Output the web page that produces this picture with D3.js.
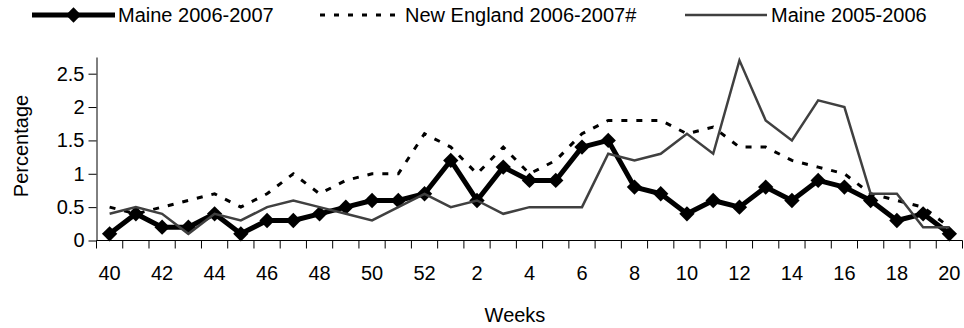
<!DOCTYPE html>
<html>
<head>
<meta charset="utf-8">
<script src="https://cdn.jsdelivr.net/npm/d3@7"></script>
<style>
  body { margin: 0; background: #fff; }
  svg text { font-family: Arial, 'Liberation Sans', sans-serif; fill: #000; }
</style>
</head>
<body>
<div id="chart"></div>
<script>
// Weeks of the flu season, 40..52 then 1..20
const weeks = [40, 41, 42, 43, 44, 45, 46, 47, 48, 49, 50, 51, 52,
  1, 2, 3, 4, 5, 6, 7, 8, 9, 10, 11, 12, 13, 14, 15, 16, 17, 18, 19, 20]

const maine0607 = [0.1, 0.4, 0.2, 0.2, 0.4, 0.1, 0.3, 0.3, 0.4, 0.5, 0.6, 0.6, 0.7,
  1.2, 0.6, 1.1, 0.9, 0.9, 1.4, 1.5, 0.8, 0.7, 0.4, 0.6, 0.5, 0.8, 0.6, 0.9, 0.8, 0.6, 0.3, 0.4, 0.1]

const newEngland0607 = [0.5, 0.4, 0.5, 0.6, 0.7, 0.5, 0.7, 1.0, 0.7, 0.9, 1.0, 1.0, 1.6,
  1.4, 1.0, 1.4, 1.0, 1.2, 1.6, 1.8, 1.8, 1.8, 1.6, 1.7, 1.4, 1.4, 1.2, 1.1, 1.0, 0.7, 0.6, 0.5, 0.2]

const maine0506 = [0.4, 0.5, 0.4, 0.1, 0.4, 0.3, 0.5, 0.6, 0.5, 0.4, 0.3, 0.5, 0.7,
  0.5, 0.6, 0.4, 0.5, 0.5, 0.5, 1.3, 1.2, 1.3, 1.6, 1.3, 2.7, 1.8, 1.5, 2.1, 2.0, 0.7, 0.7, 0.2, 0.2]

const yTicks = [0, 0.5, 1, 1.5, 2, 2.5]
const seriesNames = ['Maine 2006-2007', 'New England 2006-2007#', 'Maine 2005-2006']

;(() => {
  const WIDTH = 964
  const HEIGHT = 328
  const PLOT = { left: 96.5, right: 962.5, top: 57, bottom: 240.5 }
  const FONT = 20

  const svg = d3.select('#chart').append('svg')
    .attr('width', WIDTH)
    .attr('height', HEIGHT)

  const x = d3.scaleBand()
    .domain(weeks.map(String))
    .range([PLOT.left, PLOT.right])

  const y = d3.scaleLinear()
    .domain([0, 2.75])
    .range([PLOT.bottom, PLOT.top])

  const cx = (d, i) => x(String(weeks[i])) + x.bandwidth() / 2

  // y axis
  const yAxis = d3.axisLeft(y)
    .tickValues(yTicks)
    .tickFormat(d3.format('~g'))
    .tickSize(8)
    .tickPadding(4)
    .tickSizeOuter(0)

  const yg = svg.append('g')
    .attr('transform', `translate(${PLOT.left},0)`)
    .call(yAxis)
  yg.selectAll('text').style('font-size', FONT + 'px')
  yg.selectAll('line, path').attr('stroke', '#000')

  // x axis, ticks between categories
  const xg = svg.append('g')
    .attr('transform', `translate(0,${PLOT.bottom})`)
  xg.append('line')
    .attr('x1', PLOT.left).attr('x2', PLOT.right)
    .attr('stroke', '#000')
  const bounds = weeks.map(w => x(String(w))).concat([PLOT.right])
  xg.selectAll('line.tick')
    .data(bounds)
    .join('line')
    .attr('class', 'tick')
    .attr('x1', d => d).attr('x2', d => d)
    .attr('y1', 0).attr('y2', 8)
    .attr('stroke', '#000')
  xg.selectAll('text')
    .data(weeks.filter(w => w % 2 === 0))
    .join('text')
    .attr('x', w => x(String(w)) + x.bandwidth() / 2)
    .attr('y', 39)
    .attr('text-anchor', 'middle')
    .style('font-size', FONT + 'px')
    .text(w => w)

  // axis titles
  svg.append('text')
    .attr('x', 515).attr('y', 322)
    .attr('text-anchor', 'middle')
    .style('font-size', FONT + 'px')
    .text('Weeks')

  svg.append('text')
    .attr('transform', 'translate(28,146) rotate(-90)')
    .attr('text-anchor', 'middle')
    .style('font-size', FONT + 'px')
    .text('Percentage')

  const line = d3.line()
    .x(cx)
    .y(d => y(d))

  const diamond = d3.symbol().type(d3.symbolDiamond2).size(150)

  // series
  svg.append('path')
    .datum(maine0607)
    .attr('d', line)
    .attr('fill', 'none')
    .attr('stroke', '#000')
    .attr('stroke-width', 5)
    .attr('stroke-linejoin', 'round')

  svg.selectAll('path.marker')
    .data(maine0607)
    .join('path')
    .attr('class', 'marker')
    .attr('d', diamond)
    .attr('transform', (d, i) => `translate(${cx(d, i)},${y(d)})`)
    .attr('fill', '#000')

  svg.append('path')
    .datum(newEngland0607)
    .attr('d', line)
    .attr('fill', 'none')
    .attr('stroke', '#000')
    .attr('stroke-width', 3)
    .attr('stroke-dasharray', '6,9')

  svg.append('path')
    .datum(maine0506)
    .attr('d', line)
    .attr('fill', 'none')
    .attr('stroke', '#404040')
    .attr('stroke-width', 2.5)

  // legend
  const legend = svg.append('g')
  const items = [
    { name: seriesNames[0], x1: 32, x2: 115, tx: 118, stroke: '#000', w: 5, dash: null, marker: true },
    { name: seriesNames[1], x1: 320, x2: 402, tx: 405, stroke: '#000', w: 3, dash: '5,9', marker: false },
    { name: seriesNames[2], x1: 685, x2: 767, tx: 771, stroke: '#404040', w: 2.5, dash: null, marker: false }
  ]
  const ly = 15
  items.forEach(it => {
    legend.append('line')
      .attr('x1', it.x1).attr('x2', it.x2)
      .attr('y1', ly).attr('y2', ly)
      .attr('stroke', it.stroke)
      .attr('stroke-width', it.w)
      .attr('stroke-dasharray', it.dash)
    if (it.marker) {
      legend.append('path')
        .attr('d', diamond)
        .attr('transform', `translate(${(it.x1 + it.x2) / 2},${ly})`)
    }
    legend.append('text')
      .attr('x', it.tx).attr('y', ly + 7)
      .style('font-size', FONT + 'px')
      .text(it.name)
  })
})()
</script>
</body>
</html>
